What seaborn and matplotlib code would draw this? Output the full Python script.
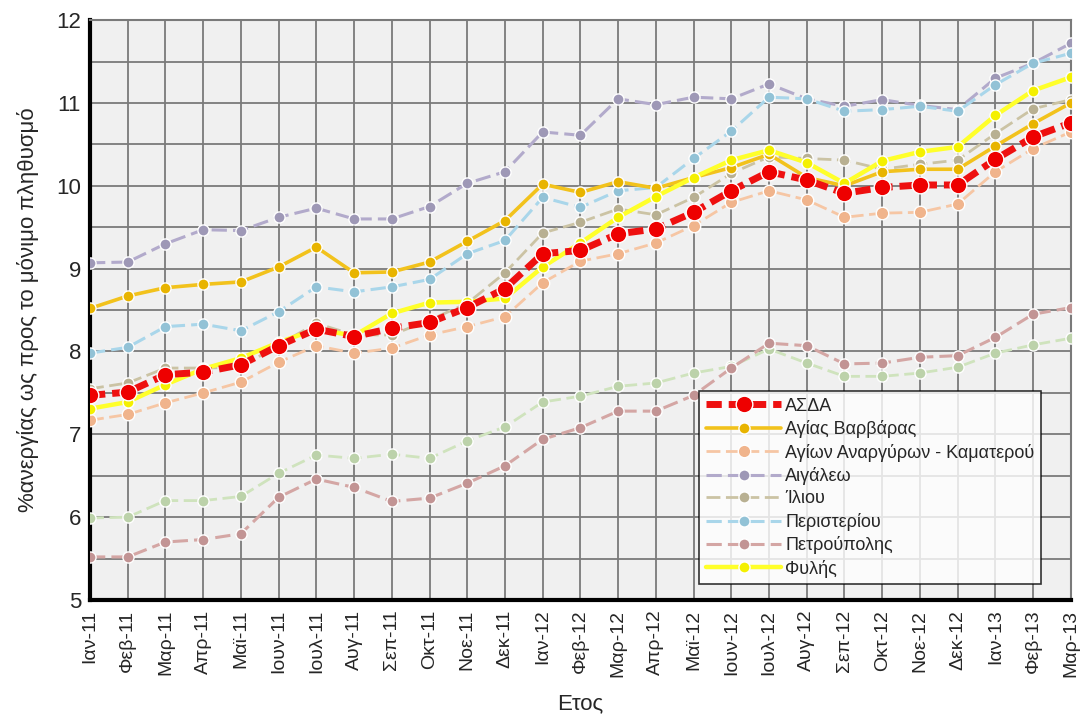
import numpy as np
import pandas as pd
import matplotlib
matplotlib.use("Agg")
import matplotlib.pyplot as plt
import seaborn as sns

# Monthly unemployment share (% of permanent population), Jan 2011 - Mar 2013
months = ["Ιαν-11", "Φεβ-11", "Μαρ-11", "Απρ-11", "Μαϊ-11", "Ιουν-11", "Ιουλ-11",
          "Αυγ-11", "Σεπ-11", "Οκτ-11", "Νοε-11", "Δεκ-11",
          "Ιαν-12", "Φεβ-12", "Μαρ-12", "Απρ-12", "Μαϊ-12", "Ιουν-12", "Ιουλ-12",
          "Αυγ-12", "Σεπ-12", "Οκτ-12", "Νοε-12", "Δεκ-12",
          "Ιαν-13", "Φεβ-13", "Μαρ-13"]

asda = [7.47, 7.51, 7.72, 7.75, 7.84, 8.07, 8.27, 8.18, 8.28, 8.35, 8.53, 8.76,
        9.18, 9.22, 9.42, 9.48, 9.68, 9.94, 10.17, 10.07, 9.91, 9.98, 10.01, 10.01,
        10.32, 10.59, 10.76]
agia_varvara = [8.52, 8.67, 8.77, 8.81, 8.84, 9.02, 9.26, 8.95, 8.96, 9.08, 9.33, 9.58,
                10.02, 9.92, 10.05, 9.97, 10.10, 10.22, 10.38, 10.10, 10.00, 10.17, 10.20, 10.20,
                10.48, 10.75, 11.00]
agioi_anargyroi = [7.17, 7.24, 7.38, 7.50, 7.63, 7.87, 8.07, 7.98, 8.04, 8.20, 8.30, 8.42,
                   8.83, 9.09, 9.18, 9.31, 9.52, 9.80, 9.94, 9.83, 9.62, 9.67, 9.68, 9.78,
                   10.17, 10.45, 10.65]
aigaleo = [9.07, 9.08, 9.30, 9.47, 9.46, 9.62, 9.73, 9.60, 9.60, 9.75, 10.03, 10.17,
           10.65, 10.61, 11.05, 10.98, 11.07, 11.05, 11.23, 11.05, 10.96, 11.04, 10.97, 10.92,
           11.30, 11.48, 11.72]
ilion = [7.55, 7.62, 7.80, 7.80, 7.81, 8.08, 8.34, 8.20, 8.20, 8.38, 8.58, 8.95,
         9.43, 9.56, 9.72, 9.65, 9.86, 10.15, 10.35, 10.33, 10.31, 10.20, 10.26, 10.31,
         10.63, 10.93, 11.04]
peristeri = [7.98, 8.05, 8.30, 8.33, 8.25, 8.48, 8.78, 8.72, 8.78, 8.87, 9.18, 9.34,
             9.86, 9.74, 9.94, 9.98, 10.33, 10.66, 11.07, 11.05, 10.90, 10.92, 10.96, 10.90,
             11.22, 11.48, 11.60]
petroupoli = [5.52, 5.52, 5.70, 5.73, 5.80, 6.24, 6.46, 6.36, 6.19, 6.23, 6.41, 6.62,
              6.94, 7.08, 7.28, 7.28, 7.47, 7.80, 8.10, 8.07, 7.85, 7.86, 7.93, 7.95,
              8.17, 8.45, 8.53]
extra_area = [5.99, 6.00, 6.20, 6.20, 6.25, 6.53, 6.75, 6.71, 6.76, 6.71, 6.92, 7.09,
              7.39, 7.46, 7.58, 7.62, 7.74, 7.82, 8.03, 7.86, 7.70, 7.70, 7.74, 7.81,
              7.98, 8.08, 8.16]
fyli = [7.31, 7.39, 7.60, 7.79, 7.92, 8.11, 8.27, 8.19, 8.46, 8.59, 8.60, 8.64,
        9.02, 9.31, 9.62, 9.87, 10.10, 10.31, 10.43, 10.28, 10.03, 10.30, 10.41, 10.47,
        10.85, 11.15, 11.31]

# (label, values, line colour, marker colour, linewidth, dashes, marker size, zorder)
series = [
    ("ΑΣΔΑ", asda, "#ee1010", "#ee0000", 5.0, (2.2, 1.0), 12, 9),
    ("Αγίας Βαρβάρας", agia_varvara, "#f2c21c", "#e8b400", 2.6, None, 8, 6),
    ("Αγίων Αναργύρων - Καματερού", agioi_anargyroi, "#f6c6a4", "#f0b48c", 2.0, (5, 2), 9, 5),
    ("Αιγάλεω", aigaleo, "#b2aacb", "#9e98b6", 2.2, (5, 2), 8, 4),
    ("Ίλιου", ilion, "#cbc3a4", "#b8b092", 2.0, (5, 2), 8, 4),
    ("Περιστερίου", peristeri, "#a9d6ea", "#92c2d6", 2.2, (5, 2), 8, 4),
    ("Πετρούπολης", petroupoli, "#d4a6a4", "#c29494", 2.2, (5, 2), 8, 4),
    ("_extra", extra_area, "#cfe3bd", "#bcd2aa", 2.0, (5, 2), 8, 3),
    ("Φυλής", fyli, "#ffff2a", "#f4f000", 3.2, None, 8, 7),
]

sns.set_theme(style="white")
plt.rcParams["font.family"] = ["Liberation Sans Narrow", "Liberation Sans", "DejaVu Sans"]

fig = plt.figure(figsize=(10.91, 7.19), dpi=100)
ax = fig.add_axes([0.0825, 0.1655, 0.899, 0.8065])
ax.set_facecolor("#f0f0f0")

x = np.arange(len(months))
for label, vals, lc, mc, lw, dashes, ms, z in series:
    df = pd.DataFrame({"month": x, "value": vals})
    kw = dict(x="month", y="value", data=df, ax=ax, color=lc, linewidth=lw,
              marker="o", markersize=ms, markerfacecolor=mc,
              markeredgecolor="white", markeredgewidth=1.0, zorder=z,
              label=None if label.startswith("_") else label)
    if dashes is not None:
        kw["linestyle"] = (0, dashes)
    sns.lineplot(**kw)

ax.set_xlim(0, len(months) - 1)
ax.set_ylim(5, 12)
ax.set_yticks(np.arange(5, 13, 1))
ax.set_yticks(np.arange(5, 12.01, 0.5), minor=True)
ax.set_xticks(x)
ax.set_xticklabels(months, rotation=90, fontsize=14)
ax.tick_params(axis="y", labelsize=16, length=6, width=2, direction="inout")
ax.tick_params(axis="x", length=6, width=2, direction="inout", pad=4)

ax.grid(True, which="both", color="#7a7a7a", linewidth=1.3)
ax.set_axisbelow(True)
for side in ("top", "right"):
    ax.spines[side].set_color("#7a7a7a")
    ax.spines[side].set_linewidth(1.5)
for side in ("left", "bottom"):
    ax.spines[side].set_color("black")
    ax.spines[side].set_linewidth(3)

ax.set_xlabel("Ετος", fontsize=16, labelpad=12)
ax.set_ylabel("%ανεργίας ως προς το μόνιμο πληθυσμό", fontsize=16, labelpad=12)

leg = ax.legend(loc="lower left", bbox_to_anchor=(0.612, 0.012), fontsize=13,
                frameon=True, fancybox=False, facecolor="white", edgecolor="black",
                handlelength=4.2, borderpad=0.35, labelspacing=0.3, handletextpad=0.2)
leg.get_frame().set_linewidth(1.2)
leg.set_zorder(20)

fig.savefig("out.png", dpi=100)
